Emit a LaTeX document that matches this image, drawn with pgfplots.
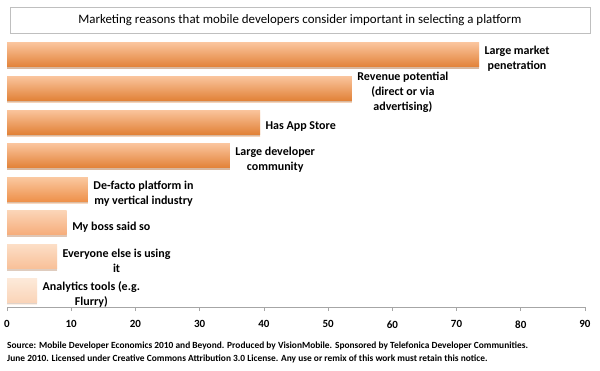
\documentclass[border=0pt]{standalone}
\usepackage{pgfplots}
\pgfplotsset{compat=1.18}
\usepackage{fontspec}
\setmainfont{Carlito}
\usetikzlibrary{shadows}
\definecolor{ta}{RGB}{250,196,156}
\definecolor{ba}{RGB}{226,130,56}
\definecolor{tb}{RGB}{250,200,160}
\definecolor{bb}{RGB}{238,145,75}
\definecolor{tc}{RGB}{251,212,182}
\definecolor{bc}{RGB}{246,172,122}
\definecolor{td}{RGB}{252,222,198}
\definecolor{bd}{RGB}{248,192,152}
\definecolor{te}{RGB}{253,234,218}
\definecolor{be}{RGB}{250,212,184}
\begin{document}
\begin{tikzpicture}[x=1pt,y=1pt]
\useasboundingbox (-7,-63) rectangle (593,307);
\begin{axis}[
  at={(0,0)}, anchor=south west,
  scale only axis, width=578pt, height=269pt,
  xmin=0, xmax=90, ymin=0.5, ymax=8.5,
  xtick={0,10,...,90},
  ytick=\empty,
  axis y line=none,
  axis x line*=bottom,
  axis line style={gray!70, line width=0.6pt},
  x axis line style={-},
  tick style={gray!70, line width=0.6pt},
  tick align=outside,
  major tick length=4pt,
  xticklabel style={font=\bfseries\fontsize{11}{12}\selectfont, yshift=-6pt},
  /pgf/number format/assume math mode=true,
  clip=false,
  every axis plot/.append style={xbar, bar width=24pt, bar shift=0pt, draw=none,
     drop shadow={shadow xshift=0pt, shadow yshift=-2pt, opacity=0.35},
     nodes near coords, point meta=explicit symbolic,
     nodes near coords style={font=\bfseries\fontsize{12}{15}\selectfont, align=center, anchor=west, xshift=2pt, yshift=-4pt, text=black}},
]
\addplot[shade, top color=ta, bottom color=ba] coordinates {(73.5,8) [{Large market\\penetration}]};
\addplot[shade, top color=ta, bottom color=ba] coordinates {(53.7,7) [{Revenue potential\\(direct or via\\advertising)}]};
\addplot[shade, top color=ta, bottom color=ba] coordinates {(39.4,6) [{Has App Store}]};
\addplot[shade, top color=ta, bottom color=ba] coordinates {(34.7,5) [{Large developer\\community}]};
\addplot[shade, top color=tb, bottom color=bb] coordinates {(12.6,4) [{De-facto platform in\\my vertical industry}]};
\addplot[shade, top color=tc, bottom color=bc] coordinates {(9.3,3) [{My boss said so}]};
\addplot[shade, top color=td, bottom color=bd] coordinates {(7.8,2) [{Everyone else is using\\it}]};
\addplot[shade, top color=te, bottom color=be] coordinates {(4.7,1) [{Analytics tools (e.g.\\Flurry)}]};
\end{axis}
\node[draw=gray!50, line width=0.6pt, minimum width=580pt, minimum height=26pt, font=\fontsize{12.9}{14}\selectfont] at (293,287) {Marketing reasons that mobile developers consider important in selecting a platform};
\node[anchor=north west, align=left, inner sep=0pt, font=\bfseries\fontsize{9.4}{13}\selectfont] at (0,-35) {Source: Mobile Developer Economics 2010 and Beyond. Produced by VisionMobile. Sponsored by Telefonica Developer Communities.\\June 2010. Licensed under Creative Commons Attribution 3.0 License. Any use or remix of this work must retain this notice.};
\end{tikzpicture}
\end{document}
